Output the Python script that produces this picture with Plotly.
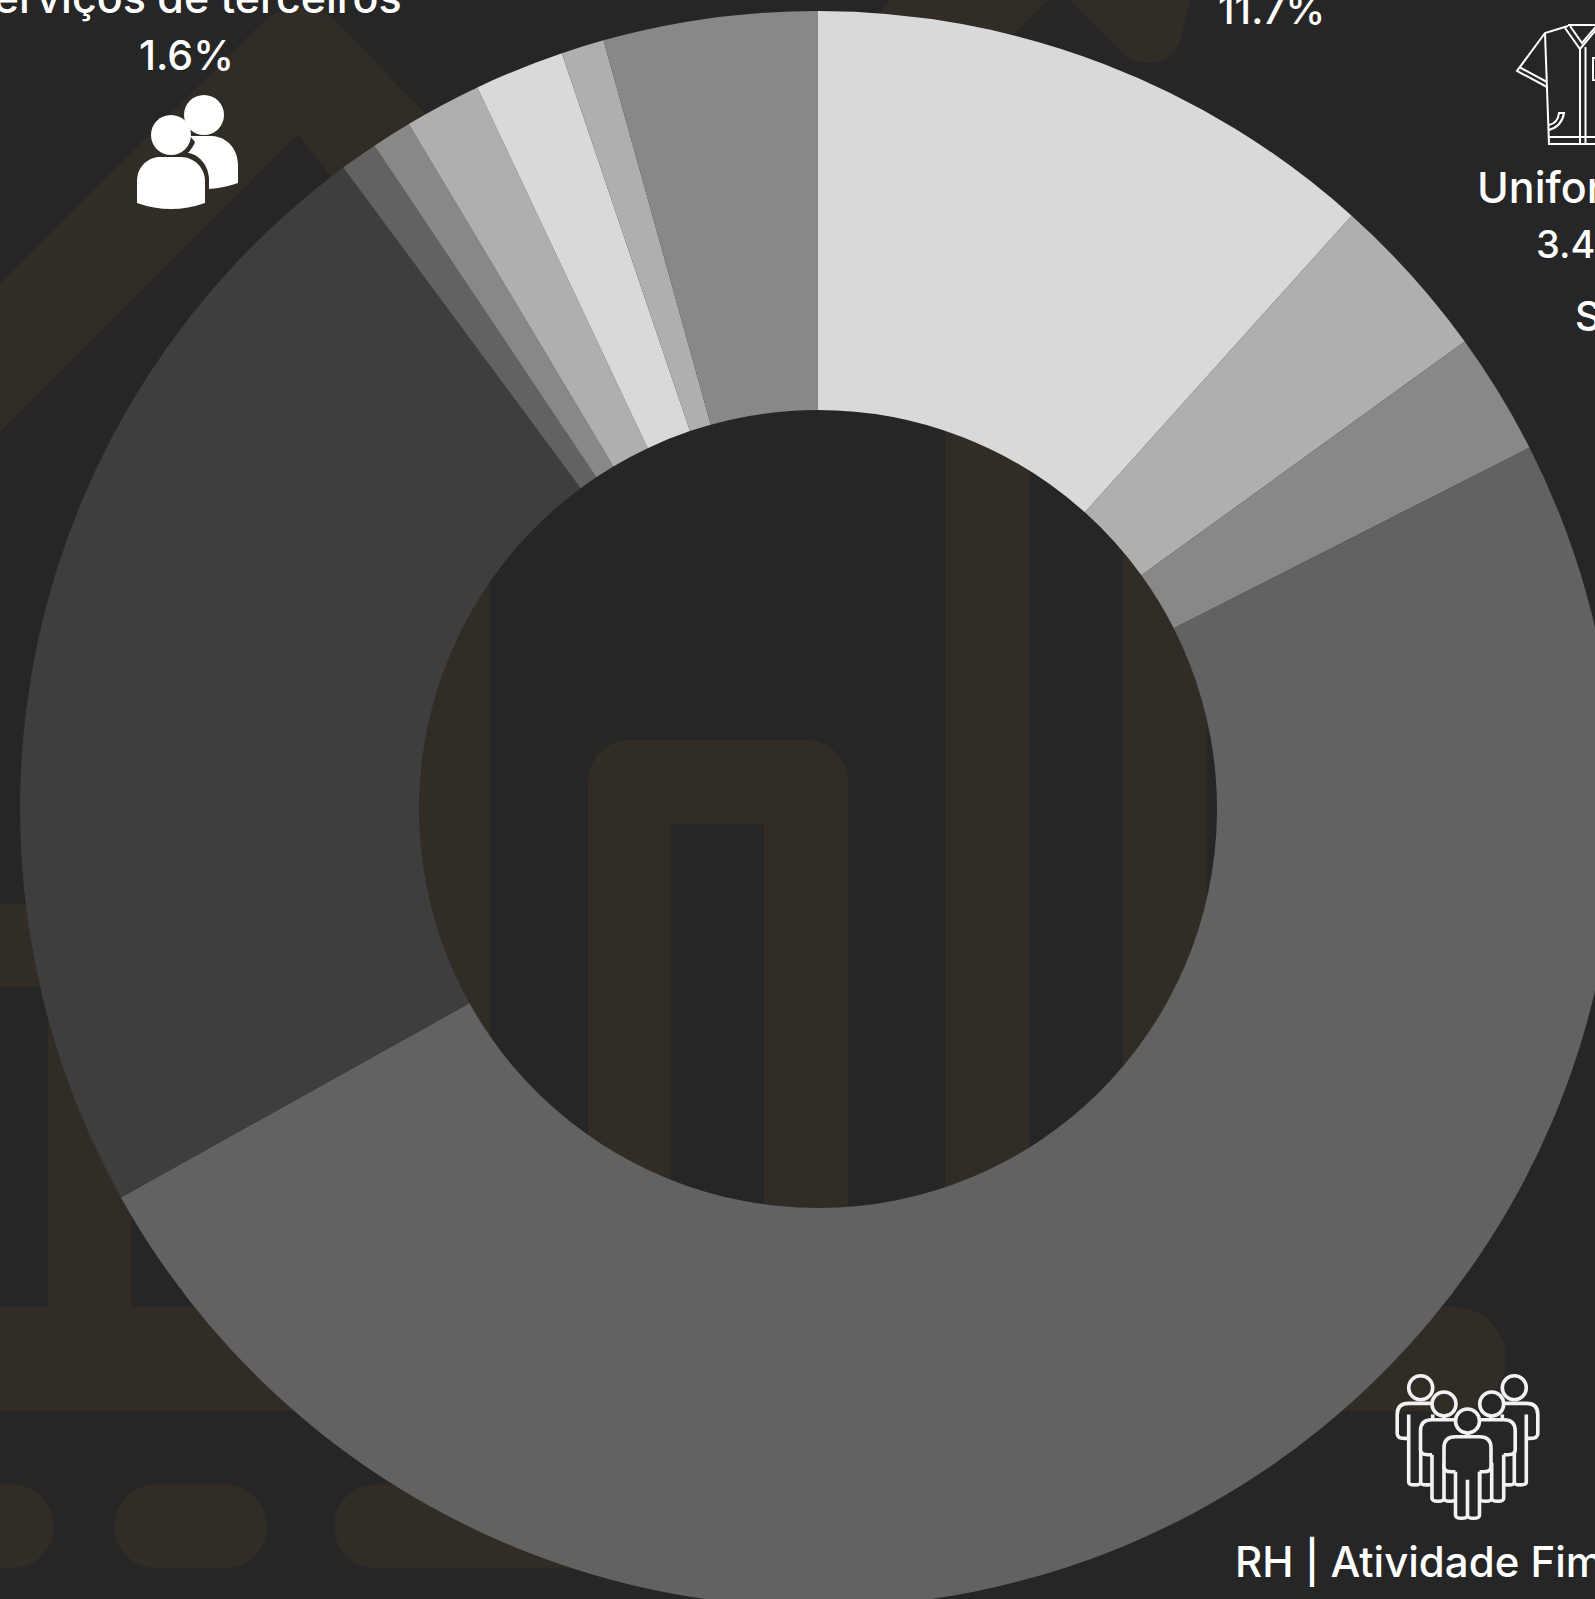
import plotly.graph_objects as go

# ---- data (share of total, %) ----
categories = ["Categoria A", "Uniforme", "Categoria S", "RH | Atividade Fim", "Categoria B",
              "Categoria C", "Categoria D", "Serviços de terceiros", "Categoria E",
              "Categoria F", "Categoria G"]
values = [11.66, 3.38, 2.48, 49.39, 22.95, 0.76, 0.81, 1.55, 1.82, 0.87, 4.33]
slice_colors = ["#D9D9D9", "#AFAFAF", "#888888", "#626262", "#3E3E3E", "#626262",
                "#888888", "#AFAFAF", "#D9D9D9", "#AFAFAF", "#888888"]

BG = "#262626"
BROWN = "#322C27"
WHITE = "#FFFFFF"
FONT = "Inter"

# page frame: the ring is larger than the window, centre (818, 809), R 798
W, H = 1636, 1618
ML, MR, MT, MB = 20, 20, 11, 11
PW, PH = W - ML - MR, H - MT - MB
K = 0.5523


def fx(px):
    return (px - ML) / PW


def fy(py):
    return 1 - (py - MT) / PH


def path(*segs):
    """segments: ('M', x, y), ('L', x, y), ('Q', cx, cy, x, y), ('C', ...), ('Z',)"""
    out = []
    for s in segs:
        cmd, nums = s[0], s[1:]
        pts = []
        for i in range(0, len(nums), 2):
            pts.append(f"{fx(nums[i]):.5f},{fy(nums[i + 1]):.5f}")
        out.append(cmd + " ".join(pts))
    return " ".join(out)


shapes = []


def add_path(d, fill=None, line=None, width=0, layer="above"):
    shapes.append(dict(type="path", xref="paper", yref="paper", path=d, layer=layer,
                       fillcolor=fill if fill else "rgba(0,0,0,0)",
                       line=dict(color=line if line else "rgba(0,0,0,0)", width=width)))


def add_rect(x0, y0, x1, y1, r=None):
    if r is None:
        add_path(path(("M", x0, y0), ("L", x1, y0), ("L", x1, y1), ("L", x0, y1), ("Z",)),
                 fill=BROWN, layer="below")
    else:
        c = r * (1 - K)
        add_path(path(("M", x0 + r, y0), ("L", x1 - r, y0), ("C", x1 - c, y0, x1, y0 + c, x1, y0 + r),
                      ("L", x1, y1 - r), ("C", x1, y1 - c, x1 - c, y1, x1 - r, y1), ("L", x0 + r, y1),
                      ("C", x0 + c, y1, x0, y1 - c, x0, y1 - r), ("L", x0, y0 + r),
                      ("C", x0, y0 + c, x0 + c, y0, x0 + r, y0), ("Z",)),
                 fill=BROWN, layer="below")


def add_circle(cx, cy, r, fill=None, line=None, width=0, layer="above"):
    shapes.append(dict(type="circle", xref="paper", yref="paper", layer=layer,
                       x0=fx(cx - r), x1=fx(cx + r), y0=fy(cy + r), y1=fy(cy - r),
                       fillcolor=fill if fill else "rgba(0,0,0,0)",
                       line=dict(color=line if line else "rgba(0,0,0,0)", width=width)))


# ---- background watermark ----
add_path(path(("M", -20, 303), ("L", 265, 20), ("C", 283, 4, 316, 4, 334, 20), ("L", 480, 169),
              ("L", 380, 241), ("L", 298, 134), ("L", -20, 452), ("Z",)), fill=BROWN, layer="below")
add_path(path(("M", 898, -10), ("L", 1058, -10), ("L", 1000, 48), ("L", 850, 48), ("Z",)),
         fill=BROWN, layer="below")
add_path(path(("M", 1060, -10), ("L", 1123, 53), ("C", 1140, 69, 1172, 67, 1181, 38),
              ("L", 1193, -10), ("Z",)), fill=BROWN, layer="below")
add_rect(-10, 904, 200, 987)
add_rect(48, 904, 131, 1320)
add_rect(-60, 1307, 1506, 1411, r=52)
add_rect(-100, 1484.5, 54, 1568, r=41.7)
add_rect(114, 1484.5, 267, 1568, r=41.7)
add_rect(334, 1484.5, 700, 1568, r=41.7)
add_rect(380, 500, 490, 1100)
add_rect(945, 400, 1029, 1300)
add_rect(1123, 400, 1207, 1300)
c_n = 42 * (1 - K)
add_path(path(("M", 588, 1300), ("L", 588, 782), ("C", 588, 740 + c_n, 588 + c_n, 740, 630, 740), ("L", 806, 740),
              ("C", 848 - c_n, 740, 848, 740 + c_n, 848, 782), ("L", 848, 1300), ("L", 764, 1300), ("L", 764, 824),
              ("L", 671, 824), ("L", 671, 1300), ("Z",)), fill=BROWN, layer="below")

# ---- icon: two people (solid) ----
add_circle(204, 115, 20, fill=WHITE)
add_circle(171, 135, 20, fill=WHITE)
add_path(path(("M", 190, 136), ("L", 212, 136), ("C", 228, 137, 238, 150, 238, 165), ("L", 238, 183),
              ("Q", 224, 188, 209, 189), ("L", 209, 178), ("C", 208, 164, 198, 154, 188, 153),
              ("Q", 194, 146, 195, 142), ("Z",)), fill=WHITE)
add_path(path(("M", 137, 203), ("L", 137, 181), ("C", 137, 167, 148, 157, 160, 157), ("L", 181, 157),
              ("C", 194, 157, 205, 168, 205, 181), ("L", 205, 203), ("Q", 171, 215, 137, 203), ("Z",)),
         fill=WHITE)

# ---- icon: shirt (outline) ----
SH = dict(line=WHITE, width=2)
add_path(path(("M", 1568, 26), ("L", 1545, 33), ("L", 1517, 71), ("L", 1547, 87)), **SH)
add_path(path(("M", 1519, 67), ("L", 1547, 82)), **SH)
add_path(path(("M", 1545, 33), ("L", 1549, 144), ("L", 1600, 144)), **SH)
add_path(path(("M", 1549, 137), ("L", 1600, 137)), **SH)
add_path(path(("M", 1568, 25), ("L", 1600, 25)), **SH)
add_path(path(("M", 1565, 28), ("L", 1580, 49), ("L", 1600, 25)), **SH)
add_path(path(("M", 1570, 26), ("L", 1582, 43), ("L", 1600, 22)), **SH)
add_path(path(("M", 1580, 49), ("L", 1580, 144)), **SH)
add_path(path(("M", 1585.5, 47), ("L", 1585.5, 144)), **SH)
add_path(path(("M", 1549, 125), ("Q", 1558, 123, 1559, 113), ("L", 1564, 113),
              ("Q", 1562, 126, 1549, 130)), **SH)
add_path(path(("M", 1593, 58), ("L", 1600, 58), ("L", 1600, 80), ("L", 1593, 80), ("Z",)), **SH)

# ---- icon: group of five people (outline) ----
ICON = "#F2F2F2"
IW = 3.6


def person(cx, hy, fill=None, head_fill=None):
    sy = hy + 15.7
    a, b, t = sy + 35, sy + 81.5, sy + 11
    add_path(path(("M", cx - 12, a - 24), ("L", cx - 12, b - 3), ("Q", cx - 12, b, cx - 6, b),
                  ("Q", cx, b, cx, b - 3), ("L", cx, a + 8), ("L", cx, b - 3),
                  ("Q", cx, b, cx + 6, b), ("Q", cx + 12, b, cx + 12, b - 3), ("L", cx + 12, a - 24)),
             fill=fill, line=ICON, width=IW)
    add_path(path(("M", cx - 12, a), ("L", cx - 16, a), ("Q", cx - 23.5, a, cx - 23.5, a - 5),
                  ("L", cx - 23.5, t), ("Q", cx - 23.5, sy, cx - 12, sy), ("L", cx + 12, sy),
                  ("Q", cx + 23.5, sy, cx + 23.5, t), ("L", cx + 23.5, a - 5),
                  ("Q", cx + 23.5, a, cx + 16, a), ("L", cx + 12, a)),
             fill=fill, line=ICON, width=IW)
    add_circle(cx, hy, 12, fill=head_fill, line=ICON, width=IW)


person(1420.7, 1387.7)
person(1514.3, 1387.7)
person(1444, 1404, fill=BG, head_fill=BROWN)
person(1491.7, 1404, fill=BG, head_fill=BG)
person(1467.5, 1421, fill=BG, head_fill=BG)

# ---- texts: text, x px, baseline y px, anchor, font size ----
texts = [
    ("Serviços de terceiros", 184, 14, "center", 43),
    ("1.6%", 186, 71, "center", 41),
    ("11.7%", 1271, 25, "center", 40),
    ("Uniforme", 1476, 204, "left", 43),
    ("3.4%", 1535, 259, "left", 38),
    ("S", 1574, 331, "left", 40),
    ("RH | Atividade Fim", 1234, 1578, "left", 42),
]
annotations = [
    dict(text=t, x=fx(x), y=fy(y + 0.24 * fs), xref="paper", yref="paper", xanchor=anc, yanchor="bottom",
         showarrow=False, font=dict(family=FONT, size=fs, color=WHITE, weight=500), borderpad=0)
    for t, x, y, anc, fs in texts
]

fig = go.Figure(go.Pie(labels=categories, values=values, hole=0.5, sort=False,
                       direction="clockwise", rotation=0, textinfo="none",
                       marker=dict(colors=slice_colors, line=dict(width=0)),
                       showlegend=False))
fig.update_layout(width=W, height=H, margin=dict(l=ML, r=MR, t=MT, b=MB, pad=0),
                  paper_bgcolor=BG, plot_bgcolor=BG, shapes=shapes, annotations=annotations,
                  showlegend=False)
fig.write_html("out.html", config={"displayModeBar": False},
               post_script="document.body.style.margin='0';document.body.style.overflow='hidden';"
                           "document.documentElement.style.overflow='hidden';"
                           "document.documentElement.style.background='#262626';")
